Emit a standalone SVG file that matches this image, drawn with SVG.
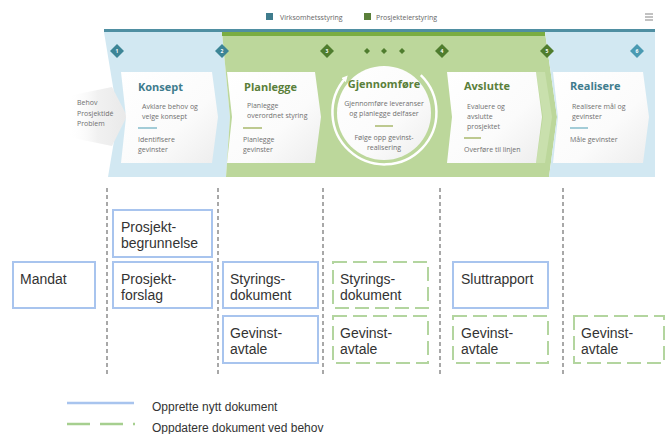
<svg xmlns="http://www.w3.org/2000/svg" width="666" height="434" viewBox="0 0 666 434">
  <style>
    .bt { font-family: "Open Sans", "Liberation Sans", sans-serif; }
    .ttl { font-size: 11px; font-weight: bold; }
    .teal { fill: #3f7c8d; }
    .grn { fill: #5a7f3a; }
    .body { font-size: 7px; fill: #707070; }
    .box-new { fill: #ffffff; stroke: #a8c4ee; stroke-width: 2; }
    .box-upd { fill: #ffffff; stroke: #b3d59f; stroke-width: 2; stroke-dasharray: 14 6; }
    .lbl { font-family: "Liberation Sans", Arial, sans-serif; font-size: 14px; fill: #333333; }
    .leg { font-family: "Liberation Sans", Arial, sans-serif; font-size: 12px; fill: #333333; }
    .div { stroke: #6f6f6f; stroke-width: 1.2; stroke-dasharray: 4 3; fill: none; }
    .card { fill: url(#cardFill); }
    .dash-t { stroke: #86bccb; stroke-width: 1.5; }
    .dash-g { stroke: #a9b96c; stroke-width: 1.5; }
  </style>
  <defs>
    <linearGradient id="cardFill" x1="0" y1="0" x2="1" y2="1">
      <stop offset="0" stop-color="#ffffff"/>
      <stop offset="0.6" stop-color="#fbfbfb"/>
      <stop offset="1" stop-color="#ededed"/>
    </linearGradient>
    <linearGradient id="inputFill" x1="0" y1="0" x2="1" y2="0">
      <stop offset="0" stop-color="#ffffff" stop-opacity="0"/>
      <stop offset="0.5" stop-color="#f1f1f1"/>
      <stop offset="1" stop-color="#e9e9e9"/>
    </linearGradient>
    <marker id="ringTip" viewBox="0 0 10 10" refX="5" refY="5" markerWidth="2.5" markerHeight="2.5" orient="auto">
      <path d="M0,0 L10,5 L0,10 z" fill="#ffffff"/>
    </marker>
  </defs>

  <!-- header legend -->
  <g id="header">
    <rect x="266" y="13" width="7" height="7" fill="#3f7c8d"/>
    <text class="bt" x="280" y="20" font-size="7" fill="#666">Virksomhetsstyring</text>
    <rect x="364" y="13" width="7" height="7" fill="#5a7f3a"/>
    <text class="bt" x="376" y="20" font-size="7" fill="#666">Prosjekteierstyring</text>
    <g stroke="#9a9a9a" stroke-width="1.2">
      <line x1="645" y1="14" x2="653" y2="14"/>
      <line x1="645" y1="17" x2="653" y2="17"/>
      <line x1="645" y1="20" x2="653" y2="20"/>
    </g>
  </g>

  <!-- phase band -->
  <g id="band">
    <polygon points="104,32 222,32 230,117 226,177 108,177 118,117" fill="#d2e8f2"/>
    <polygon points="222,32 545,32 557,117 549,177 226,177 230,117" fill="#bcd79b"/>
    <polygon points="536,72 545,72 552,117 545,163 536,163 543,117" fill="#c9e0ad"/>
    <polygon points="545,32 655,32 655,177 549,177 557,117" fill="#d2e8f2"/>
    <rect x="104" y="29" width="551" height="3" fill="#4f8fa2"/>
    <rect x="222" y="32" width="323" height="4" fill="#7aad42"/>

    <!-- input arrow -->
    <polygon points="68,96 112,87 127,116 112,146 68,137" fill="url(#inputFill)"/>
    <text class="bt body" x="77" y="105" font-size="6.5">Behov</text>
    <text class="bt body" x="77" y="116" font-size="6.5">Prosjektidé</text>
    <text class="bt body" x="77" y="126" font-size="6.5">Problem</text>

    <!-- phase markers -->
    <g>
      <polygon points="117,44 124,51 117,58 110,51" fill="#3d8596"/>
      <polygon points="222,44 229,51 222,58 215,51" fill="#3d8596"/>
      <polygon points="327,44 334,51 327,58 320,51" fill="#4f7d2e"/>
      <polygon points="442,44 449,51 442,58 435,51" fill="#4f7d2e"/>
      <polygon points="547,44 554,51 547,58 540,51" fill="#4f7d2e"/>
      <polygon points="637,44 644,51 637,58 630,51" fill="#4a9ab2"/>
      <polygon points="367,48 370,51 367,54 364,51" fill="#4f7d2e"/>
      <polygon points="384,48 387,51 384,54 381,51" fill="#4f7d2e"/>
      <polygon points="402,48 405,51 402,54 399,51" fill="#4f7d2e"/>
      <g class="bt" font-size="5" fill="#ffffff" text-anchor="middle" font-weight="bold">
        <text x="117" y="53">1</text>
        <text x="222" y="53">2</text>
        <text x="327" y="53">3</text>
        <text x="442" y="53">4</text>
        <text x="547" y="53">5</text>
        <text x="637" y="53">6</text>
      </g>
    </g>
  </g>

  <!-- phase cards -->
  <g id="phase-konsept">
    <polygon class="card" points="121,72 212,72 218,117 212,163 121,163 126,117"/>
    <text class="bt ttl teal" x="138" y="91">Konsept</text>
    <text class="bt body" x="142" y="109">Avklare behov og</text>
    <text class="bt body" x="142" y="119">velge konsept</text>
    <line class="dash-t" x1="138" y1="128" x2="157" y2="128"/>
    <text class="bt body" x="138" y="142">Identifisere</text>
    <text class="bt body" x="138" y="152">gevinster</text>
  </g>
  <g id="phase-planlegge">
    <polygon class="card" points="227,72 315,72 321,117 315,163 227,163 232,117"/>
    <text class="bt ttl grn" x="244" y="91">Planlegge</text>
    <text class="bt body" x="247" y="108">Planlegge</text>
    <text class="bt body" x="247" y="118">overordnet styring</text>
    <line class="dash-g" x1="243" y1="128" x2="262" y2="128"/>
    <text class="bt body" x="243" y="142">Planlegge</text>
    <text class="bt body" x="243" y="152">gevinster</text>
  </g>
  <g id="phase-gjennomfore">
    <circle cx="384" cy="113" r="47" fill="url(#cardFill)"/>
    <path d="M420.8,75.2 A52,52 0 1 1 345.6,77.8" fill="none" stroke="#ffffff" stroke-width="2.5" marker-end="url(#ringTip)"/>
    <text class="bt ttl grn" x="384" y="88" text-anchor="middle">Gjennomføre</text>
    <text class="bt body" x="384" y="106" text-anchor="middle">Gjennomføre leveranser</text>
    <text class="bt body" x="384" y="116" text-anchor="middle">og planlegge delfaser</text>
    <line class="dash-g" x1="375" y1="126" x2="393" y2="126"/>
    <text class="bt body" x="384" y="140" text-anchor="middle">Følge opp gevinst-</text>
    <text class="bt body" x="384" y="150" text-anchor="middle">realisering</text>
  </g>
  <g id="phase-avslutte">
    <polygon class="card" points="447,72 536,72 542,117 536,163 447,163 452,117"/>
    <text class="bt ttl grn" x="464" y="90">Avslutte</text>
    <text class="bt body" x="467" y="109">Evaluere og</text>
    <text class="bt body" x="467" y="119">avslutte</text>
    <text class="bt body" x="467" y="129">prosjektet</text>
    <line class="dash-g" x1="464" y1="138" x2="481" y2="138"/>
    <text class="bt body" x="464" y="152">Overføre til linjen</text>
  </g>
  <g id="phase-realisere">
    <polygon class="card" points="553,72 643,72 649,117 643,163 553,163 558,117"/>
    <text class="bt ttl teal" x="570" y="90">Realisere</text>
    <text class="bt body" x="572" y="109">Realisere mål og</text>
    <text class="bt body" x="572" y="119">gevinster</text>
    <line class="dash-t" x1="570" y1="128" x2="588" y2="128"/>
    <text class="bt body" x="570" y="142">Måle gevinster</text>
  </g>

  <!-- phase dividers -->
  <g id="connectors">
    <line class="div" x1="107" y1="188" x2="107" y2="377"/>
    <line class="div" x1="218" y1="188" x2="218" y2="377"/>
    <line class="div" x1="323" y1="188" x2="323" y2="377"/>
    <line class="div" x1="440" y1="188" x2="440" y2="377"/>
    <line class="div" x1="563" y1="188" x2="563" y2="377"/>
  </g>

  <!-- documents -->
  <g id="doc-mandat">
    <rect class="box-new" x="13" y="262" width="82" height="46"/>
    <text class="lbl" x="20" y="284">Mandat</text>
  </g>
  <g id="doc-prosjektbegrunnelse">
    <rect class="box-new" x="113" y="210" width="99" height="47"/>
    <text class="lbl" x="121" y="232">Prosjekt-</text>
    <text class="lbl" x="121" y="248">begrunnelse</text>
  </g>
  <g id="doc-prosjektforslag">
    <rect class="box-new" x="113" y="262" width="99" height="46"/>
    <text class="lbl" x="121" y="284">Prosjekt-</text>
    <text class="lbl" x="121" y="300">forslag</text>
  </g>
  <g id="doc-styringsdokument-ny">
    <rect class="box-new" x="223" y="262" width="95" height="46"/>
    <text class="lbl" x="230" y="284">Styrings-</text>
    <text class="lbl" x="230" y="300">dokument</text>
  </g>
  <g id="doc-gevinstavtale-ny">
    <rect class="box-new" x="223" y="316" width="95" height="47"/>
    <text class="lbl" x="230" y="338">Gevinst-</text>
    <text class="lbl" x="230" y="354">avtale</text>
  </g>
  <g id="doc-styringsdokument-oppd">
    <rect class="box-upd" x="333" y="262" width="95" height="46"/>
    <text class="lbl" x="340" y="284">Styrings-</text>
    <text class="lbl" x="340" y="300">dokument</text>
  </g>
  <g id="doc-gevinstavtale-gjf">
    <rect class="box-upd" x="333" y="316" width="95" height="47"/>
    <text class="lbl" x="340" y="338">Gevinst-</text>
    <text class="lbl" x="340" y="354">avtale</text>
  </g>
  <g id="doc-sluttrapport">
    <rect class="box-new" x="453" y="262" width="95" height="46"/>
    <text class="lbl" x="461" y="284">Sluttrapport</text>
  </g>
  <g id="doc-gevinstavtale-avs">
    <rect class="box-upd" x="453" y="316" width="95" height="47"/>
    <text class="lbl" x="461" y="338">Gevinst-</text>
    <text class="lbl" x="461" y="354">avtale</text>
  </g>
  <g id="doc-gevinstavtale-real">
    <rect class="box-upd" x="574" y="316" width="90" height="47"/>
    <text class="lbl" x="581" y="338">Gevinst-</text>
    <text class="lbl" x="581" y="354">avtale</text>
  </g>

  <!-- legend -->
  <g id="legend">
    <line x1="67" y1="403" x2="134" y2="403" stroke="#a8c4ee" stroke-width="2.5"/>
    <text class="leg" x="152" y="411">Opprette nytt dokument</text>
    <line x1="67" y1="424" x2="135" y2="424" stroke="#a6cf8f" stroke-width="2.5" stroke-dasharray="23 10"/>
    <text class="leg" x="152" y="432">Oppdatere dokument ved behov</text>
  </g>
</svg>
